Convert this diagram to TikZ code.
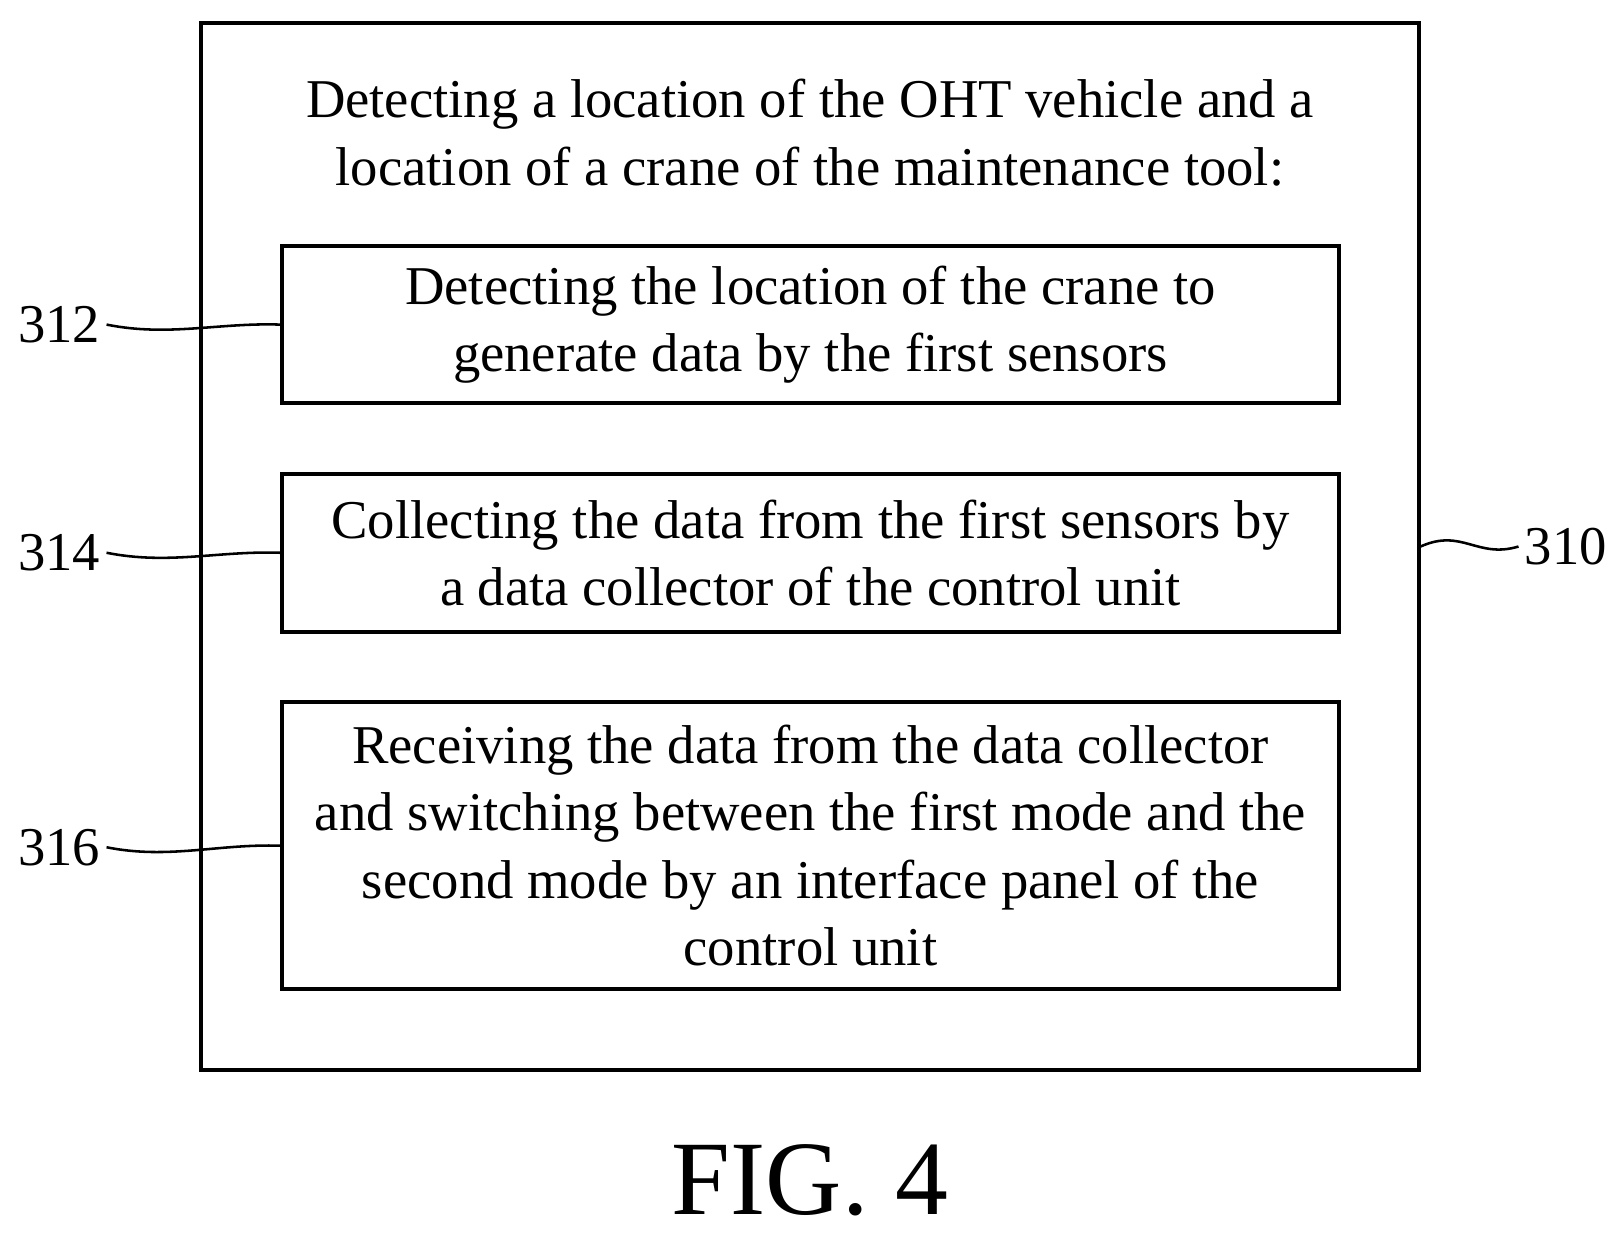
\documentclass[tikz,border=0pt]{standalone}
\usepackage{fontspec}
\setmainfont{Liberation Serif}
\usetikzlibrary{positioning}
\begin{document}
\begin{tikzpicture}[
    x=0.02cm, y=-0.02cm,
    font=\fontsize{30}{37}\selectfont,
    stepbox/.style={
    	draw, line width=2.2pt,
    	minimum width=20.38cm, align=center, inner sep=0pt
    }, lead/.style={
    	line width=1.4pt
    }]
    \useasboundingbox (0,0) rectangle (1566,1193);

    \node[draw, line width=2.2pt, minimum width=23.48cm, minimum height=20.2cm] (outer) at (781,527) {};
    \node[align=center] (title) at (781,128) {Detecting a location of the OHT vehicle and a\\location of a crane of the maintenance tool:};

    \node[stepbox, minimum height=3.04cm] (s312) at (781.5,313) {Detecting the location of the crane to\\generate data by the first sensors};
    \node[stepbox, minimum height=3.04cm] (s314) at (781.5,533) {Collecting the data from the first sensors by\\a data collector of the control unit};
    \node[stepbox, minimum height=5.54cm] (s316) at (781.5,815.5) {Receiving the data from the data collector\\and switching between the first mode and the\\second mode by an interface panel of the\\control unit};

    \node (l312) at (57,313) {312};
    \node (l314) at (57,533) {314};
    \node (l316) at (57,817) {316};
    \node (l310) at (1510,527) {310};

    \draw[lead] (l312.east) .. controls +(60,12) and +(-60,-2) .. (s312.west);
    \draw[lead] (l314.east) .. controls +(60,12) and +(-60,-2) .. (s314.west);
    \draw[lead] (l316.east) .. controls +(60,12) and +(-60,-2) .. (s316.west);
    \draw[lead] (outer.east) .. controls +(40,-18) and +(-40,12) .. (l310.west);

    \node[font=\fontsize{58}{64}\selectfont] (fig) at (781,1138) {FIG. 4};
\end{tikzpicture}
\end{document}
